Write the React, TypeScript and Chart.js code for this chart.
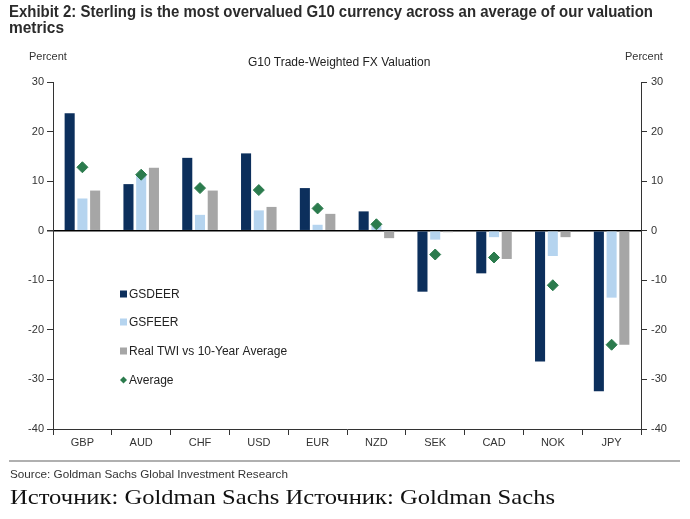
import React, { useEffect, useLayoutEffect, useRef } from "react";
import { Chart, registerables } from "chart.js";

Chart.register(...registerables);

const categories = ["GBP", "AUD", "CHF", "USD", "EUR", "NZD", "SEK", "CAD", "NOK", "JPY"];
const gsdeer = [23.7, 9.4, 14.7, 15.6, 8.6, 3.9, -12.3, -8.6, -26.4, -32.4];
const gsfeer = [6.5, 11.3, 3.2, 4.1, 1.2, 1.0, -1.8, -1.3, -5.1, -13.5];
const realTwi = [8.1, 12.7, 8.1, 4.8, 3.4, -1.5, -0.3, -5.7, -1.3, -23.0];
const average = [12.8, 11.3, 8.6, 8.2, 4.5, 1.3, -4.8, -5.4, -11.0, -23.0];
const seriesLabels = ["GSDEER", "GSFEER", "Real TWI vs 10-Year Average", "Average"];
const yMin = -40;
const yMax = 30;
const yStep = 10;

const NAVY = "#0c2f5c";
const LIGHT = "#b5d4ef";
const GRAY = "#a6a6a6";
const GREEN = "#2b7b4d";
const TEXT = "#333333";
const FONT = "'Liberation Sans', Arial, sans-serif";

const legendPlugin = {
  id: "insideLegend",
  afterDraw(chart: any) {
    const ctx = chart.ctx;
    const x0 = 120;
    const rows = [294, 322, 351, 380];
    ctx.save();
    ctx.font = "12px 'Liberation Sans', Arial, sans-serif";
    ctx.textBaseline = "middle";
    ctx.textAlign = "left";
    chart.data.datasets.forEach((ds: any, i: number) => {
      const y = rows[i];
      if (ds.type === "line") {
        ctx.fillStyle = ds.backgroundColor;
        ctx.beginPath();
        ctx.moveTo(x0 + 3.5, y - 3.5);
        ctx.lineTo(x0 + 7, y);
        ctx.lineTo(x0 + 3.5, y + 3.5);
        ctx.lineTo(x0, y);
        ctx.closePath();
        ctx.fill();
      } else {
        ctx.fillStyle = ds.backgroundColor;
        ctx.fillRect(x0, y - 3.5, 7, 7);
      }
      ctx.fillStyle = "#222";
      ctx.fillText(ds.label, x0 + 9, y + 0.5);
    });
    ctx.restore();
  },
};

function FitText({ text, width, style }: { text: string; width: number; style: React.CSSProperties }) {
  const ref = useRef<HTMLSpanElement>(null);
  useLayoutEffect(() => {
    const el = ref.current;
    if (!el) return;
    el.style.transform = "none";
    const w = el.getBoundingClientRect().width;
    if (w > 0) el.style.transform = `scaleX(${width / w})`;
  }, [text, width]);
  return (
    <span
      ref={ref}
      style={{
        position: "absolute",
        whiteSpace: "nowrap",
        transformOrigin: "left top",
        ...style,
      }}
    >
      {text}
    </span>
  );
}

export default function App() {
  const canvasRef = useRef<HTMLCanvasElement>(null);

  useEffect(() => {
    if (!canvasRef.current) return;
    const tickFont = { family: FONT, size: 11 };
    const chart = new Chart(canvasRef.current, {
      type: "bar",
      data: {
        labels: categories,
        datasets: [
          { type: "bar", label: seriesLabels[0], data: gsdeer, backgroundColor: NAVY, categoryPercentage: 0.65, barPercentage: 0.79 },
          { type: "bar", label: seriesLabels[1], data: gsfeer, backgroundColor: LIGHT, categoryPercentage: 0.65, barPercentage: 0.79 },
          { type: "bar", label: seriesLabels[2], data: realTwi, backgroundColor: GRAY, categoryPercentage: 0.65, barPercentage: 0.79 },
          {
            type: "line",
            label: seriesLabels[3],
            data: average,
            showLine: false,
            pointStyle: "rectRot",
            pointRadius: 5.5,
            pointBackgroundColor: GREEN,
            pointBorderColor: GREEN,
            backgroundColor: GREEN,
            borderColor: GREEN,
            order: -1,
          },
        ] as any,
      },
      options: {
        responsive: false,
        animation: false,
        devicePixelRatio: 1,
        layout: { padding: { top: 82, left: 0, right: 0, bottom: 60 } },
        plugins: {
          legend: { display: false },
          title: { display: false },
          tooltip: { enabled: false },
        },
        scales: {
          x: {
            type: "category",
            offset: true,
            afterFit: (s: any) => { s.height = 30; },
            grid: {
              offset: true,
              drawOnChartArea: false,
              drawTicks: true,
              tickLength: 6,
              tickColor: TEXT,
            },
            border: { display: true, color: TEXT, width: 1 },
            ticks: { font: tickFont, color: TEXT, padding: 1, maxRotation: 0 },
          },
          y: {
            position: "left",
            min: yMin,
            max: yMax,
            afterFit: (s: any) => { s.width = 53; },
            grid: {
              drawOnChartArea: true,
              drawTicks: true,
              tickLength: 6,
              tickColor: TEXT,
              color: (c: any) => (c.tick && c.tick.value === 0 ? "#000000" : "rgba(0,0,0,0)"),
              lineWidth: (c: any) => (c.tick && c.tick.value === 0 ? 1.5 : 1),
            },
            border: { display: true, color: TEXT, width: 1 },
            ticks: { stepSize: yStep, font: tickFont, color: TEXT, padding: 3 },
          },
          y2: {
            position: "right",
            min: yMin,
            max: yMax,
            afterFit: (s: any) => { s.width = 49; },
            grid: {
              drawOnChartArea: false,
              drawTicks: true,
              tickLength: 6,
              tickColor: TEXT,
            },
            border: { display: true, color: TEXT, width: 1 },
            ticks: { stepSize: yStep, font: tickFont, color: TEXT, padding: 4 },
          },
        },
      } as any,
      plugins: [legendPlugin],
    });
    return () => chart.destroy();
  }, []);

  return (
    <div style={{ position: "fixed", left: 0, top: 0, width: 690, height: 519, background: "#fff", overflow: "hidden" }}>
      <canvas ref={canvasRef} width={690} height={519} style={{ position: "absolute", left: 0, top: 0, width: 690, height: 519 }} />
      <FitText
        text="Exhibit 2: Sterling is the most overvalued G10 currency across an average of our valuation"
        width={644}
        style={{ left: 9, top: 3, fontFamily: FONT, fontWeight: "bold", fontSize: 17, lineHeight: "17px", color: "#2b2b2b" }}
      />
      <FitText
        text="metrics"
        width={55}
        style={{ left: 9, top: 19, fontFamily: FONT, fontWeight: "bold", fontSize: 17, lineHeight: "17px", color: "#2b2b2b" }}
      />
      <span style={{ position: "absolute", left: 29, top: 50, fontFamily: FONT, fontSize: 11, lineHeight: "13px", color: TEXT }}>Percent</span>
      <span style={{ position: "absolute", left: 625, top: 50, fontFamily: FONT, fontSize: 11, lineHeight: "13px", color: TEXT }}>Percent</span>
      <span style={{ position: "absolute", left: 248, top: 55, fontFamily: FONT, fontSize: 12, lineHeight: "14px", color: "#222" }}>G10 Trade-Weighted FX Valuation</span>
      <div style={{ position: "absolute", left: 9, top: 460, width: 671, height: 2, background: "#b0b0b0" }} />
      <FitText
        text="Source: Goldman Sachs Global Investment Research"
        width={278}
        style={{ left: 10, top: 467, fontFamily: FONT, fontSize: 11.5, lineHeight: "14px", color: TEXT }}
      />
      <FitText
        text="Источник: Goldman Sachs Источник: Goldman Sachs"
        width={545}
        style={{ left: 10, top: 484, fontFamily: "'Liberation Serif', 'DejaVu Serif', serif", fontSize: 22, lineHeight: "26px", color: "#111" }}
      />
    </div>
  );
}
